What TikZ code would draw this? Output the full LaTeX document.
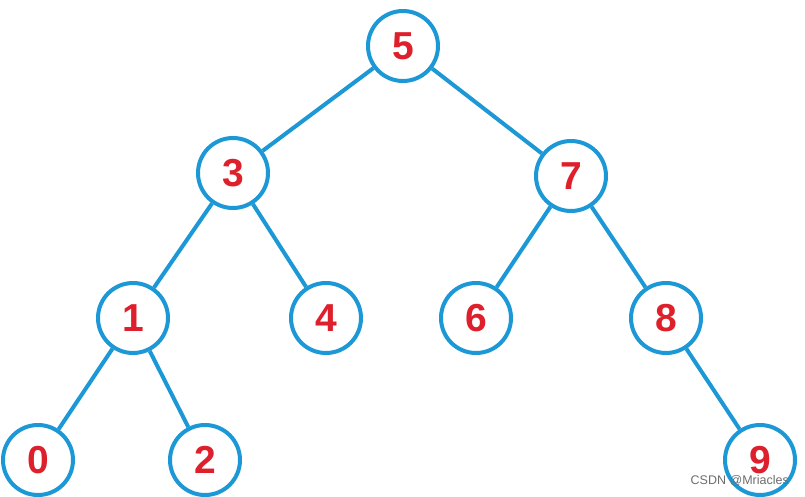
\documentclass[tikz,border=0pt]{standalone}
\usepackage{fontspec}
\setmainfont{Liberation Sans}
\definecolor{treeblue}{RGB}{28,152,214}
\definecolor{treered}{RGB}{222,32,44}
\definecolor{wmgray}{RGB}{110,110,110}
\begin{document}
\begin{tikzpicture}[x=1pt,y=-1pt,
  treenode/.style={circle,draw=treeblue,line width=4pt,minimum size=70pt,inner sep=0pt,
    text=treered,font=\fontsize{39}{39}\selectfont\bfseries},
  treeedge/.style={draw=treeblue,line width=4pt}]
\useasboundingbox[fill=white] (0,0) rectangle (805,496);
\node[treenode] (n5) at (403,46) {5};
\node[treenode] (n3) at (233,173) {3};
\node[treenode] (n7) at (571,176) {7};
\node[treenode] (n1) at (133,318) {1};
\node[treenode] (n4) at (326,318) {4};
\node[treenode] (n6) at (476,318) {6};
\node[treenode] (n8) at (666,318) {8};
\node[treenode] (n0) at (38,460) {0};
\node[treenode] (n2) at (205,460) {2};
\node[treenode] (n9) at (760,460) {9};
\draw[treeedge] (n5) -- (n3);
\draw[treeedge] (n5) -- (n7);
\draw[treeedge] (n3) -- (n1);
\draw[treeedge] (n3) -- (n4);
\draw[treeedge] (n7) -- (n6);
\draw[treeedge] (n7) -- (n8);
\draw[treeedge] (n1) -- (n0);
\draw[treeedge] (n1) -- (n2);
\draw[treeedge] (n8) -- (n9);
\node[text=wmgray,font=\fontsize{12.5}{12.5}\selectfont,inner sep=0pt,anchor=east] (wm) at (789,481) {CSDN @Mriacles};
\end{tikzpicture}
\end{document}
